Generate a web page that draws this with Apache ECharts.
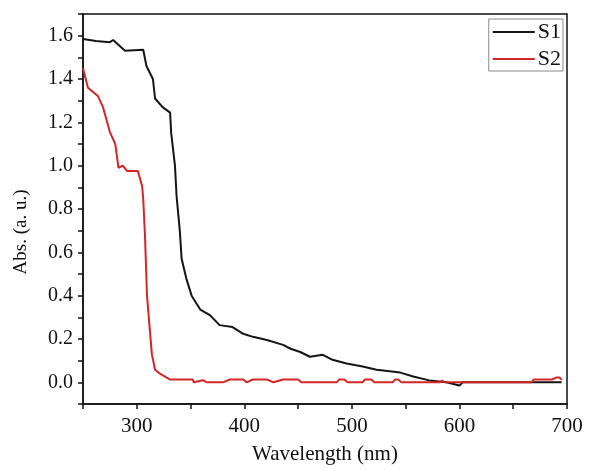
<!DOCTYPE html>
<html>
<head>
<meta charset="utf-8">
<script src="https://cdn.jsdelivr.net/npm/echarts@6/dist/echarts.min.js"></script>
<style>
  html, body { margin:0; padding:0; background:#fff; }
  #chart { width:590px; height:470px; }
</style>
</head>
<body>
<div id="chart"></div>
<script>
// 数据
const seriesNames = ["S1", "S2"];
const s1Wave = [250,262,275,278,289,306,307,309,315,317,324,331,332,335.5,337,340,341.7,346,351,359,368,377,389,399,408,421,436,443,452,461,473,482,495,510,523,545,557,572,588,600,603,695];
const s1Abs  = [1.585,1.575,1.57,1.58,1.53,1.535,1.53,1.46,1.40,1.31,1.27,1.245,1.15,1.0,0.86,0.70,0.57,0.48,0.40,0.336,0.31,0.264,0.255,0.224,0.21,0.195,0.173,0.155,0.14,0.118,0.127,0.104,0.087,0.073,0.058,0.045,0.027,0.009,0.0,-0.015,0.0,0.0];
const s2Wave = [250,254.6,264,268.6,275,280,283,287,291,301,305,306,307.6,309.5,314,317,321.6,331,352,353,361.5,365,380,386.6,399,402,408,421,427,436,450,453,486,488,493,496,510,512,518,521,538,540,543,546,582,584,586,667,669,686,690,693,695];
const s2Abs  = [1.45,1.36,1.32,1.27,1.155,1.10,0.99,1.0,0.975,0.975,0.905,0.845,0.68,0.40,0.13,0.058,0.04,0.013,0.013,0.0,0.01,0.0,0.0,0.013,0.013,0.0,0.013,0.013,0.0,0.013,0.013,0.0,0.0,0.013,0.013,0.0,0.0,0.013,0.013,0.0,0.0,0.013,0.013,0.0,0.0,0.008,0.0,0.0,0.013,0.013,0.022,0.022,0.012];
const xTicks = [300,400,500,600,700];
const yTicks = [0.0,0.2,0.4,0.6,0.8,1.0,1.2,1.4,1.6];

const serif = "Liberation Serif";
const zip = (xs, ys) => xs.map((x,i)=>[x, ys[i]]);

const myChart = echarts.init(document.getElementById("chart"), null, {renderer:"canvas"});
myChart.setOption({
  animation:false,
  backgroundColor:"#fff",
  grid:{ left:83, right:23, top:14, bottom:61, show:true, borderColor:"#111", borderWidth:1.5 },
  legend:{
    data:seriesNames, orient:"vertical", right:27, top:19,
    icon:"rect", itemWidth:42, itemHeight:2, itemGap:5, padding:[2,2,1,4],
    borderColor:"#888", borderWidth:1,
    textStyle:{ fontFamily:serif, fontSize:22, color:"#111", padding:[0,0,0,-2] }
  },
  xAxis:{
    type:"value", min:250, max:700, interval:50,
    name:"Wavelength (nm)", nameLocation:"middle", nameGap:40,
    nameTextStyle:{ fontFamily:serif, fontSize:21, color:"#111" },
    axisLine:{ onZero:false, lineStyle:{ color:"#111", width:1.5 } },
    axisTick:{ inside:false, length:5, lineStyle:{ color:"#111", width:1.5 } },
    axisLabel:{ fontFamily:serif, fontSize:21, color:"#111", margin:12,
      formatter:v => xTicks.includes(v) ? String(v) : "" },
    splitLine:{ show:false }
  },
  yAxis:{
    type:"value", min:-0.1, max:1.7, interval:0.1,
    name:"Abs. (a. u.)", nameLocation:"middle", nameGap:52,
    nameTextStyle:{ fontFamily:serif, fontSize:19, color:"#111", padding:[0,0,0,-46] },
    axisLine:{ onZero:false, lineStyle:{ color:"#111", width:1.5 } },
    axisTick:{ inside:false, length:5, lineStyle:{ color:"#111", width:1.5 } },
    axisLabel:{ fontFamily:serif, fontSize:20, color:"#111", margin:10,
      formatter:v => {
        const t = yTicks.find(y => Math.abs(y - v) < 1e-6);
        return t === undefined ? "" : t.toFixed(1);
      } },
    splitLine:{ show:false }
  },
  series:[
    { name:seriesNames[0], type:"line", symbol:"none", data:zip(s1Wave, s1Abs),
      lineStyle:{ color:"#151515", width:2 }, itemStyle:{ color:"#151515" } },
    { name:seriesNames[1], type:"line", symbol:"none", data:zip(s2Wave, s2Abs),
      lineStyle:{ color:"#d42626", width:2 }, itemStyle:{ color:"#d42626" } }
  ]
});
</script>
</body>
</html>
